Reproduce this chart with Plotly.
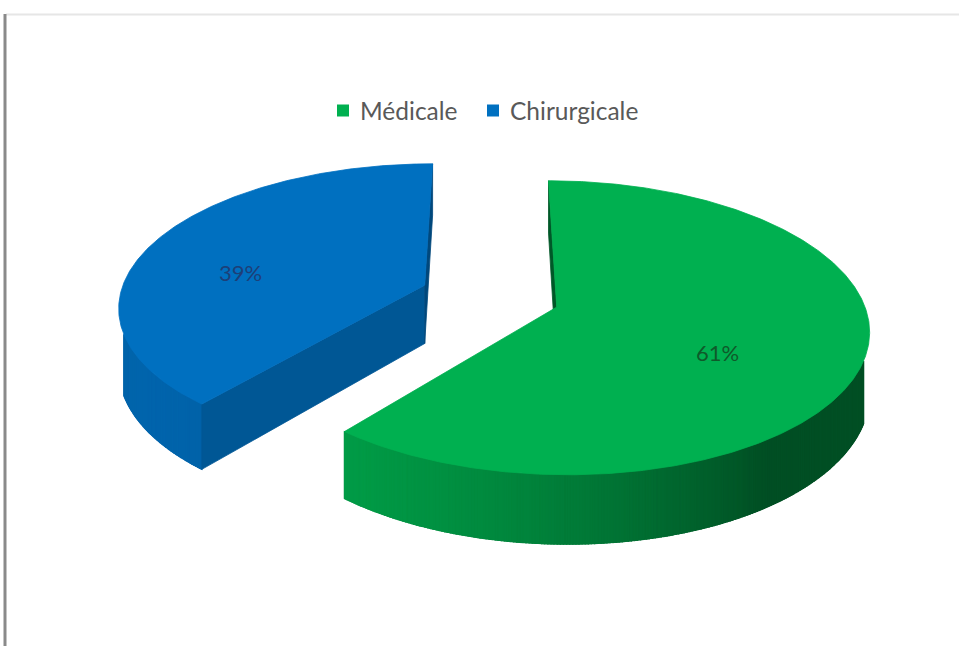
import numpy as np
import plotly.graph_objects as go

# Répartition des patients par type de prise en charge
categories = ["Médicale", "Chirurgicale"]
values = [61, 39]
colors = ["#00B050", "#0070C0"]
label_colors = ["#0f5a2a", "#1d3f78"]

W, H = 959, 646

# Simple perspective projection of a tilted, extruded pie
CX, CY = 490.0, 296.0      # screen position of the pie centre
AX, BY = 305.0, 141.0      # horizontal / vertical radius (pixels)
PERSP = 0.139              # perspective strength (front bigger than back)
DEPTH = 59.0               # thickness of the pie (pixels)
EXPLODE = 0.23             # explosion distance (fraction of radius)
CAM_D = 3.5                # viewer distance in front of the pie (radius units)

# hand-made legend layout (pixels)
LEG_Y = 110.5
LEG_SQ = 12
LEG_ITEMS_X = [337, 487]   # left edge of each colour square
LEG_TEXT_GAP = 9
LEG_FONT = dict(family="Lato", size=24.5, color="#595959")


def project(X, Z, drop=0.0):
    """X: right, Z: toward viewer, drop: 0 = top face, 1 = bottom face."""
    X = np.asarray(X, dtype=float)
    Z = np.asarray(Z, dtype=float)
    w = 1.0 / (1.0 - PERSP * Z)
    return CX + AX * X * w, CY + BY * Z * w + DEPTH * drop * w


def shade(hexcol, f):
    h = hexcol.lstrip("#")
    r, g, b = (int(h[i:i + 2], 16) for i in (0, 2, 4))
    return "rgb({},{},{})".format(int(r * f), int(g * f), int(b * f))


def signed_area(xs, ys):
    xs = np.asarray(xs); ys = np.asarray(ys)
    return float(np.sum(xs * np.roll(ys, -1) - np.roll(xs, -1) * ys)) / 2.0


def wall_factor(theta_deg):
    # lighting of the outer wall, brighter toward the front-left
    c = np.cos(np.radians(theta_deg - 235.0))
    return 0.45 + 0.45 * max(0.0, c)


def radial_factor(normal_deg):
    c = np.cos(np.radians(normal_deg - 150.0))
    return 0.5 + 0.3 * max(0.0, c)


total = float(sum(values))
slices = []
start = 0.0
for cat, val, col, lcol in zip(categories, values, colors, label_colors):
    sweep = 360.0 * val / total
    mid = np.radians(start + sweep / 2.0)
    ox = EXPLODE * np.sin(mid)
    oz = -EXPLODE * np.cos(mid)
    slices.append(dict(cat=cat, val=val, col=col, lcol=lcol,
                       t0=start, t1=start + sweep, ox=ox, oz=oz, mid=mid))
    start += sweep

fig = go.Figure()


def add_poly(xs, ys, color, lw=0.8):
    fig.add_trace(go.Scatter(
        x=list(xs), y=list(ys), mode="lines", fill="toself",
        fillcolor=color, line=dict(color=color, width=lw),
        hoverinfo="skip", showlegend=False))


# draw back slices first
for s in sorted(slices, key=lambda d: d["oz"]):
    ox, oz, col = s["ox"], s["oz"], s["col"]
    n = max(2, int(np.ceil(2 * (s["t1"] - s["t0"]))))
    th = np.linspace(s["t0"], s["t1"], n + 1)
    tr = np.radians(th)
    rx = ox + np.sin(tr)
    rz = oz - np.cos(tr)
    tx, ty = project(rx, rz, 0.0)
    bx, by = project(rx, rz, 1.0)
    cxt, cyt = project(ox, oz, 0.0)
    cxb, cyb = project(ox, oz, 1.0)

    # which parts of the outer wall face the viewer
    facing = np.sin(tr) * (0.0 - rx) + (-np.cos(tr)) * (CAM_D - rz) > 0
    idx = np.where(facing)[0]
    if len(idx) > 1:
        i0, i1 = idx[0], idx[-1]
        # base band under the gradient strips
        bxs = list(tx[i0:i1 + 1]) + list(bx[i0:i1 + 1][::-1])
        bys = list(ty[i0:i1 + 1]) + list(by[i0:i1 + 1][::-1])
        fmid = wall_factor(0.5 * (th[i0] + th[i1]))
        add_poly(bxs + [bxs[0]], bys + [bys[0]], shade(col, fmid))
        groups = {}
        for i in range(i0, i1):
            qx = [tx[i], tx[i + 1], bx[i + 1], bx[i]]
            qy = [ty[i], ty[i + 1], by[i + 1], by[i]]
            f = round(wall_factor((th[i] + th[i + 1]) / 2.0) / 0.005) * 0.005
            gx, gy = groups.setdefault(f, ([], []))
            gx.extend(qx + [qx[0], None])
            gy.extend(qy + [qy[0], None])
        for f, (gx, gy) in sorted(groups.items()):
            add_poly(gx, gy, shade(col, f), lw=1.2)

    # radial walls
    walls = [
        ([float(cxt), tx[0], bx[0], float(cxb)],
         [float(cyt), ty[0], by[0], float(cyb)], s["t0"] - 90.0),
        ([tx[-1], float(cxt), float(cxb), bx[-1]],
         [ty[-1], float(cyt), float(cyb), by[-1]], s["t1"] + 90.0),
    ]
    for qx, qy, nrm in walls:
        if signed_area(qx, qy) < 0:
            add_poly(qx + [qx[0]], qy + [qy[0]], shade(col, radial_factor(nrm % 360)))

    # top face
    px = [float(cxt)] + list(tx) + [float(cxt)]
    py = [float(cyt)] + list(ty) + [float(cyt)]
    add_poly(px, py, col)

# percentage labels on the top faces
annotations = []
for s in slices:
    lx, ly = project(s["ox"] + 0.6 * np.sin(s["mid"]),
                     s["oz"] - 0.6 * np.cos(s["mid"]), 0.0)
    annotations.append(dict(
        x=float(lx), y=float(ly), xref="x", yref="y", text=f"{s['val']}%",
        showarrow=False, xshift=-20, yshift=-15,
        font=dict(family="Lato", size=22, color=s["lcol"])))

# frame lines
shapes = [
    dict(type="line", xref="x", yref="y", x0=6, x1=W, y0=14.5, y1=14.5,
         line=dict(color="#e6e6e6", width=2)),
    dict(type="line", xref="x", yref="y", x0=5, x1=5, y0=14, y1=H,
         line=dict(color="#8a8a8a", width=3)),
]

# legend: colour square + name
for s, lx in zip(slices, LEG_ITEMS_X):
    shapes.append(dict(type="rect", xref="x", yref="y",
                       x0=lx, x1=lx + LEG_SQ,
                       y0=LEG_Y - LEG_SQ / 2, y1=LEG_Y + LEG_SQ / 2,
                       fillcolor=s["col"], line=dict(width=0)))
    annotations.append(dict(
        x=lx + LEG_SQ + LEG_TEXT_GAP, y=LEG_Y, xref="x", yref="y",
        text=s["cat"], showarrow=False, xanchor="left", yanchor="middle",
        font=LEG_FONT))

fig.update_layout(
    width=W, height=H,
    margin=dict(l=0, r=0, t=0, b=0),
    paper_bgcolor="white", plot_bgcolor="white",
    xaxis=dict(range=[0, W], visible=False, fixedrange=True),
    yaxis=dict(range=[H, 0], visible=False, fixedrange=True),
    showlegend=False,
    annotations=annotations,
    shapes=shapes,
)

fig.write_html("out.html")
